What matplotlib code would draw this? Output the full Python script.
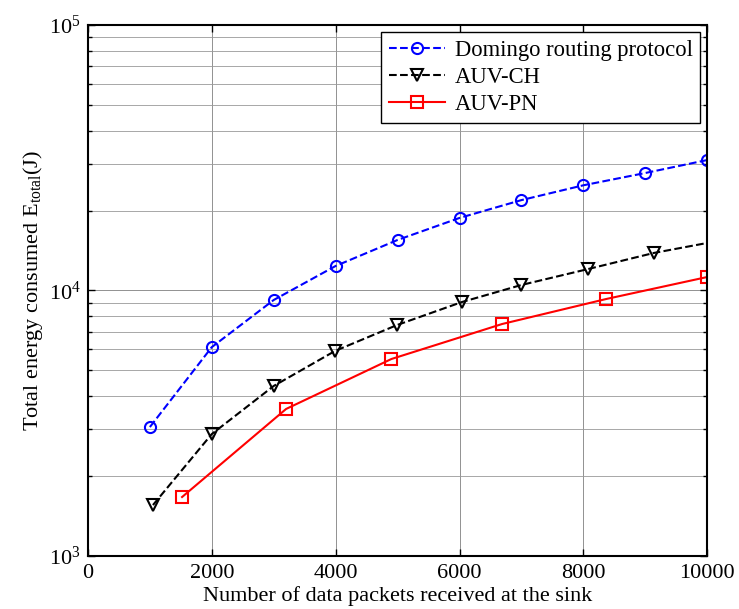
import numpy as np
import matplotlib
matplotlib.use("Agg")
import matplotlib.pyplot as plt
from matplotlib.ticker import LogLocator, NullFormatter, MultipleLocator

# Energy consumed vs. packets delivered to the sink, three protocols
domingo_x = [1000, 2000, 3000, 4000, 5000, 6000, 7000, 8000, 9000, 10000]
domingo_y = [3060, 6120, 9210, 12370, 15500, 18760, 21900, 24900, 27700, 31000]

auvch_x = [1050, 2000, 3000, 3990, 4990, 6040, 7000, 8080, 9140, 10000]
auvch_y = [1556, 2880, 4370, 5920, 7410, 9050, 10490, 12050, 13850, 15100]
auvch_markevery = list(range(9))  # last point has no marker

auvpn_x = [1520, 3200, 4900, 6690, 8370, 10000]
auvpn_y = [1668, 3580, 5520, 7480, 9290, 11240]

labels = ["Domingo routing protocol", "AUV-CH", "AUV-PN"]

plt.rcParams["font.family"] = ["Liberation Serif", "DejaVu Serif"]
plt.rcParams["mathtext.fontset"] = "custom"
plt.rcParams["mathtext.rm"] = "Liberation Serif"
plt.rcParams["mathtext.it"] = "Liberation Serif:italic"
plt.rcParams["mathtext.bf"] = "Liberation Serif:bold"

fig = plt.figure(figsize=(7.39, 6.09), dpi=100)
ax = fig.add_axes([0.119, 0.087, 0.838, 0.872])

ax.plot(domingo_x, domingo_y, "--o", color="blue", lw=1.5, ms=8,
        mfc="none", mew=1.5, label=labels[0])
ax.plot(auvch_x, auvch_y, "--v", color="black", lw=1.5, ms=9,
        mfc="none", mew=1.5, markevery=auvch_markevery, label=labels[1])
ax.plot(auvpn_x, auvpn_y, "-s", color="red", lw=1.5, ms=8,
        mfc="none", mew=1.5, label=labels[2])

ax.set_yscale("log")
ax.set_xlim(0, 10000)
ax.set_ylim(1e3, 1e5)
ax.xaxis.set_major_locator(MultipleLocator(2000))
ax.yaxis.set_major_locator(LogLocator(base=10))
ax.yaxis.set_minor_locator(LogLocator(base=10, subs=np.arange(2, 10)))
ax.yaxis.set_minor_formatter(NullFormatter())

ax.grid(True, which="major", color="0.5", lw=0.6, ls="-")
ax.grid(True, which="minor", axis="y", color="0.6", lw=0.6, ls="-")
ax.set_axisbelow(True)

ax.tick_params(which="both", direction="in", top=True, right=True,
               labelsize=16, width=1.0)
ax.tick_params(which="major", length=5)
ax.tick_params(which="minor", length=3)
ax.tick_params(axis="x", pad=6)
ax.tick_params(axis="y", pad=5)
for s in ax.spines.values():
    s.set_linewidth(1.5)

ax.set_xlabel("Number of data packets received at the sink", fontsize=16,
              labelpad=2)
ax.set_ylabel(r"Total energy consumed E$_{\rm total}$(J)", fontsize=16,
              labelpad=3)

leg = ax.legend(loc="upper right", fontsize=16.3, fancybox=False,
                framealpha=1, edgecolor="black", borderaxespad=0.3,
                handlelength=2.5, labelspacing=0.28, borderpad=0.35,
                handletextpad=0.4)
leg.get_frame().set_linewidth(1.0)

fig.savefig("out.png", dpi=100)
